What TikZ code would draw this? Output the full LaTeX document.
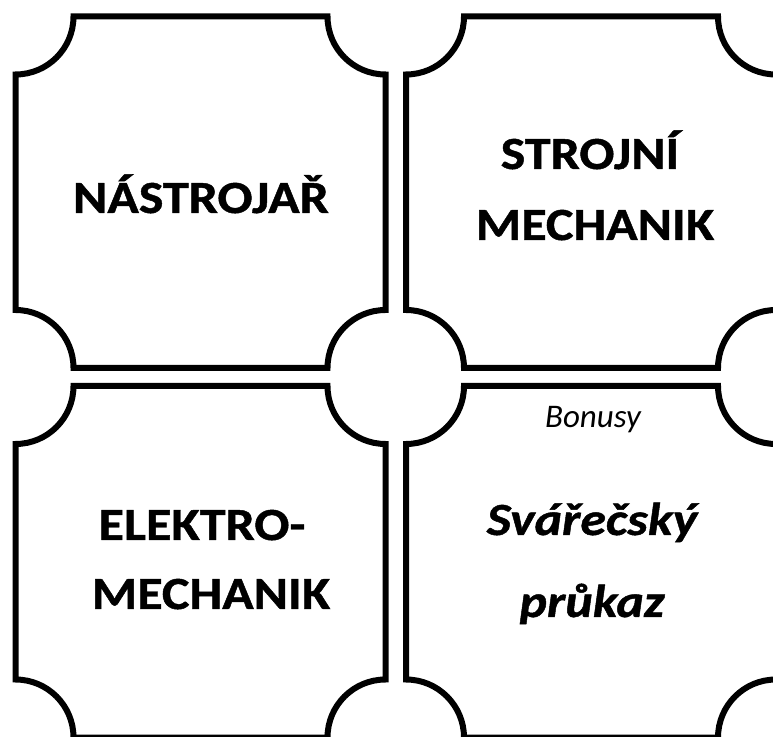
\documentclass[tikz,border=0pt]{standalone}
\usepackage{fontspec}
\setmainfont{Carlito}
\newfontfamily\cardfont[FakeStretch=1.13,FakeBold=1]{Carlito}
\newfontfamily\smallfont[FakeStretch=1.0]{Carlito}
\tikzset{
  card/.style={draw=black, line width=6pt, line join=miter},
  bigtxt/.style={anchor=base, inner sep=0pt, font=\cardfont\fontsize{46}{46}\selectfont\bfseries},
  bigital/.style={anchor=base, inner sep=0pt, font=\cardfont\fontsize{46}{46}\selectfont\bfseries\itshape},
  smalltxt/.style={anchor=base, inner sep=0pt, font=\smallfont\fontsize{33}{33}\selectfont\itshape}
}
\newcommand{\cardpath}[4]{% L T R B
  \draw[card] (#1+58,#2) -- (#3-58,#2) arc[start angle=180,end angle=270,radius=58]
    -- (#3,#4+58) arc[start angle=90,end angle=180,radius=58]
    -- (#1+58,#4) arc[start angle=0,end angle=90,radius=58]
    -- (#1,#2-58) arc[start angle=270,end angle=360,radius=58] -- cycle;}
\begin{document}
\begin{tikzpicture}[x=1pt,y=1pt]
\useasboundingbox (0,0) rectangle (773,736);
\clip (0,0) rectangle (773,736);
\fill[white] (0,0) rectangle (773,736);
\cardpath{15.5}{719.5}{385.5}{368}
\cardpath{406}{719.5}{776}{368}
\cardpath{15.5}{350}{385.5}{-1.5}
\cardpath{406}{350}{776}{-1.5}
\node[bigtxt] (t1) at (201,523) {NÁSTROJAŘ};
\node[bigtxt] (t2a) at (590,567) {STROJNÍ};
\node[bigtxt] (t2b) at (595,496) {MECHANIK};
\node[bigtxt] (t3a) at (202,196) {ELEKTRO-};
\node[bigtxt] (t3b) at (211,127) {MECHANIK};
\node[smalltxt] (t4a) at (593,308) {Bonusy};
\node[bigital] (t4b) at (592,201) {Svářečský};
\node[bigital] (t4c) at (592,119) {průkaz};
\end{tikzpicture}
\end{document}
